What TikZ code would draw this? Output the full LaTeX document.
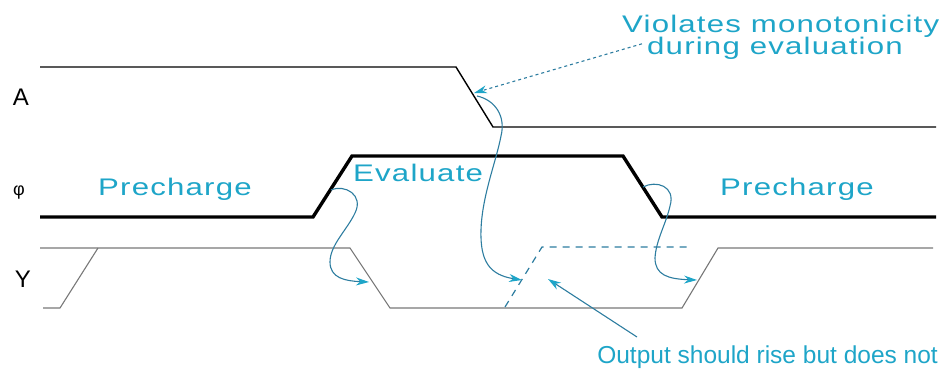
\documentclass[tikz,border=0pt]{standalone}
\usepackage{fontspec}
\setmainfont{Liberation Sans}
\newfontfamily\trackfont[FakeStretch=1.3, LetterSpace=5]{Liberation Sans}
\usetikzlibrary{arrows.meta, positioning, calc}
\definecolor{figcyan}{RGB}{30,165,200}
\definecolor{figteal}{RGB}{45,125,160}
\definecolor{figgray}{RGB}{120,120,120}
\tikzset{
  wave/.style={line width=1.4pt},
  clk/.style={line width=3.4pt},
  ywave/.style={draw=figgray, line width=1.1pt},
  ydash/.style={draw=figteal, line width=1.2pt, dash pattern=on 7pt off 6pt},
  sig/.style={font=\fontsize{24}{28}\selectfont, anchor=base, inner sep=0pt},
  note/.style={font=\fontsize{24}{28}\selectfont\trackfont, text=figcyan,
               anchor=base west, inner sep=0pt},
  arr/.style={-{Stealth[length=13pt, width=8pt, color=figcyan]}, draw=figteal,
              line width=1.1pt},
}

\begin{document}
\begin{tikzpicture}[x=1pt, y=-1pt]
  \useasboundingbox (0,0) rectangle (948,370);

  % ─── Signal names ──────────────────────────────────────────────────
  \node[sig] (lA) at (21,105) {A};
  \node[sig, font=\fontsize{18}{22}\selectfont] (lphi) at (19,195) {φ};
  \node[sig] (lY) at (23,287) {Y};

  % ─── Waveforms ─────────────────────────────────────────────────────
  \draw[wave] (40,67) -- (456,67) -- (493,127) -- (936,127);
  \draw[clk] (40,217) -- (313,217) -- (352,156) -- (623,156) -- (662,217) -- (936,217);
  \draw[ywave] (40,248) -- (350,248) -- (390,308) -- (682,308) -- (718,248) -- (933,248);
  \draw[ywave] (43,308) -- (60,308) -- (98,248);
  % expected rise of Y
  \draw[ydash] (505,307) -- (542,247) -- (687,247);

  % Points where the connectors start and end
  \coordinate (aedge) at (474,93);
  \coordinate (aloop) at (477,96);
  \coordinate (riseL) at (331,190);
  \coordinate (fallR) at (643,187);
  \coordinate (ytipL) at (369,282);
  \coordinate (ytipM) at (522,280);
  \coordinate (ytipR) at (697,280);
  \coordinate (ntip) at (548,279);
  \coordinate (ntail) at (637,337);

  % ─── Phase labels ──────────────────────────────────────────────────
  \node[note] (pre1) at (98,195) {Precharge};
  \node[note] (evl) at (353,181) {Evaluate};
  \node[note] (pre2) at (720,195) {Precharge};

  % ─── Annotations ───────────────────────────────────────────────────
  \node[note] (viol) at (622,32) {Violates monotonicity};
  \node[note] (dur) at (647,54) {during evaluation};
  \draw[arr, dashed] ($(dur.west)+(-5,-4)$) -- (aedge);

  \node[note, font=\fontsize{24.5}{28}\selectfont, anchor=base east]
    (outp) at (938,363) {Output should rise but does not};
  \draw[arr] (ntail) -- (ntip);

  % causality loops
  \draw[arr] (riseL) .. controls (345,184) and (364,195) .. (355,213)
    .. controls (347,230) and (330,245) .. (330,262)
    .. controls (330,278) and (345,281) .. (ytipL);
  \draw[arr] (aloop) .. controls (495,100) and (506,116) .. (501,136)
    .. controls (496,162) and (482,196) .. (481,230)
    .. controls (480,262) and (490,275) .. (ytipM);
  \draw[arr] (fallR) .. controls (656,180) and (676,186) .. (670,206)
    .. controls (666,224) and (656,240) .. (655,258)
    .. controls (655,275) and (668,279) .. (ytipR);

\end{tikzpicture}
\end{document}
